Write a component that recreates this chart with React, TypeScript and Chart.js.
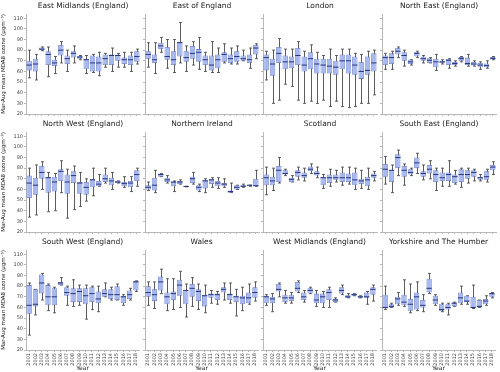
import React, { useEffect, useRef } from 'react';
import { Chart, registerables } from 'chart.js';
Chart.register(...registerables);

const years = ['2001','2002','2003','2004','2005','2006','2007','2008','2009','2010','2011','2012','2013','2014','2015','2016','2017','2018'];
const yTicks = [20, 30, 40, 50, 60, 70, 80, 90, 100, 110];
const yMin = 20;
const yMax = 114;
const yLabel = 'Mar-Aug mean MDA8 ozone (\u03bcgm\u207b\u00b3)';
const xLabel = 'Year';

// [min, q1, median, q3, max]
const eastMidlands = [[54,61,66,70,80],[52,60,67,72,76],[79.5,80,81,82.5,83],[55,66,76,79,83],[58,65,68,71,74],[68,75,80,85,88],[60,67,72,75,80],[68,73,77,79,84],[71,72,73.5,74.5,75],[58,62,71,72,75],[59,60,68,75,76],[56,60,68,74,78],[64,66,72,76,77],[60,66,75,76,82],[64,70,75,76,77],[64,67,71,73,78],[60,66,71,75,78],[67,69,74,79,81]];
const eastOfEngland = [[64,72,76,79,87],[58,68,71,76,87],[78,81,84,87,92],[63,71,74,83,90],[59,66,71,79,90],[68,74,87,88,106],[60,69,73,79,84],[66,72,77,84,88],[62,69,78,81,92],[60,66,71,75,78],[59,61,66,75,88],[59,63,71,76,82],[68,69,76,78,86],[67,68,72,76,82],[67,69,74,79,84],[70,70,72,75,80],[63,68,71,76,82],[72,76,82,85,86]];
const london = [[52,61,73,76,79],[30,56,67,72,80],[33,68,77,83,91],[48,62,69,75,81],[46,63,69,74,81],[33,66,75,82,88],[30,60,66,74,79],[32,62,72,78,85],[30,58,67,72,78],[33,58,66,72,75],[27,58,65,72,81],[32,57,64,70,75],[27,62,70,76,81],[26,58,70,76,81],[27,57,66,74,77],[30,53,60,69,76],[30,57,61,74,79],[38,60,68,77,80]];
const northEast = [[62,66,73,75,77],[62,67,73,77,79],[73,76,79,82,83],[65,70,75,78,80],[66,67,69,71,71],[73,74,77,78,79],[68,70,72,74,75],[68,68,70.5,72.5,73],[61,64,69,72,76],[67,68,69,70,71],[63,66,70.5,72,72],[65,66,67.5,69,70],[69,70,72,73.5,74],[65,66,67.5,73,76],[65,65.5,67,69,70],[62,64,66,68,69],[63,64,65.5,67.5,70],[71,71.5,72,73.5,74]];
const northWest = [[34,52,66,73,80],[36,55,64,71,83],[60,70,76,82,86],[39,57,71,72,76],[40,58,67,72,75],[57,68,77,79,87],[33,56,67,74,79],[41,66,73,77,82],[44,56,66,67,76],[49,55,62,67,70],[54,62,69,70,80],[63,63,65,68,74],[66,67,70,74,80],[60,64,68,71,76],[66,66,67,68,68],[62,63,65.5,67,72],[58,62,66,68,72],[63,68,74,78,80]];
const northernIreland = [[59,60,62,64,67],[57,59,64,71,78],[72,72,74,75,75],[66,67,69,71,73],[58,63,67,67,68],[65,65,67,68,69],[62.5,62.5,62.8,63,63],[65,66,70,72,76],[58,59,62,64,65],[57,61,68,69,70],[62,65,69,70,71],[61,63,66,68,71],[62,63,65,66,70],[57,57,58,59,66],[60,60,62,64,64],[62,62,63,64,65],[63,63,64,64,64],[63,63,63.5,70,78]];
const scotland = [[55,64,71,74,81],[59,64,68,72,80],[66,67,78,82,90],[73,74,75,78,79],[67,67,69.5,71,73],[69,72,76,78,81],[68,71,73,76,80],[75,77,79,81.5,84],[71,73,75,77,81],[61,64,71,72,74],[63,66,71,74,79],[67,69,71,74,78],[64,67,71,76,81],[65,67,71,75,81],[60,64,69,76,80],[61,65,68,70,78],[60,63,69,72,80],[68,71,73,75,77]];
const southEast = [[65,72,79,84,91],[57,67,78,78,83],[73,80,90,93,97],[64,72,78,82,84],[73,74,76,79,80],[75,80,85,90,94],[69,72,75,77,83],[70,75,79,83,87],[59,67,74,78,80],[63,68,71,76,80],[63,68,74,76,87],[65,66,72,74,78],[62,67,74,79,80],[66,70,74,78,80],[68,72,76,78,79],[68,69,71,72,74],[67,69,72,77,79],[74,78,81,83,86]];
const southWest = [[34,54,62,81,83],[53,61,63,77,77],[67,73,83,91,92],[57,62,70,81,82],[55,62,70,78,79],[81,81,83,84,88],[62,71,74,79,80],[61,65,73,78,86],[62,65,75,78,81],[49,63,71,78,81],[58,65,73,79,80],[56,64,68,75,80],[70,70,73,77,83],[67,68,72,77,79],[67,67,72,80,82],[62,64,70,71,72],[67,68,72,76,78],[75,76,84,85,85]];
const wales = [[62,70,74,80,84],[59,66,72,77,84],[73,76,84,89,96],[57,63,70,74,87],[58,67,73,75,87],[60,71,81,86,94],[51,63,76,76,82],[61,70,78,82,88],[58,66,75,77,82],[55,61,71,72,81],[64,69,72,73,76],[63,67,72,73,75],[67,74,77,79,83],[64,67,72,73,83],[52,65,70,71,77],[57,63,69,71,79],[63,64,69,74,82],[66,69,74,79,84]];
const westMidlands = [[62,64,70,71,72],[56,64,68,70,73],[70,75,77,82,83],[64,65,69,72,76],[64,66,69,72,74],[74,75,78,84,85],[65,67,70,74,76],[73,73,76,78,79],[61,64,67,73,76],[60,64,70,73,75],[60,67,74,77,79],[65,65,67,68,69],[72,73,76,79,81],[69,69,70,71.5,73],[71,71,72,73,73],[69,69,70,71,71],[63,69,70,74,75],[66,72,77,79,81]];
const yorkshire = [[58,59,60,72,80],[60,60,61,63,64],[62,63,68,70,74],[61,62,65,72,86],[55,57,63,68,82],[57,58,70,74,84],[56,60,62,67,72],[73,74,78,87,92],[62,63,67,71,72],[56,57,58,63,64],[53,58,60,63,64],[61,61,64,64,65],[63,64,69,74,80],[63,65,66,71,71],[59,60,60,70,81],[60,60,61,67,67],[62,63,66,68,71],[69,70,73,73,74]];

const panels = [
  { title: 'East Midlands (England)', data: eastMidlands },
  { title: 'East of England', data: eastOfEngland },
  { title: 'London', data: london },
  { title: 'North East (England)', data: northEast },
  { title: 'North West (England)', data: northWest },
  { title: 'Northern Ireland', data: northernIreland },
  { title: 'Scotland', data: scotland },
  { title: 'South East (England)', data: southEast },
  { title: 'South West (England)', data: southWest },
  { title: 'Wales', data: wales },
  { title: 'West Midlands (England)', data: westMidlands },
  { title: 'Yorkshire and The Humber', data: yorkshire },
];

const FONT = 'DejaVu Sans';
const SPINE = '#b8b8b8';
const BOX_FILL = '#a8b9f0';
const BOX_EDGE = '#6a7cc4';
const MEDIAN = '#26347e';
const WHISKER = '#4a4a4a';

const PLOT_W = 114;
const PLOT_H = 100;
const COL_X = (c: number) => 26 + c * 118.5;
const ROW_Y = (r: number) => 14 + r * 118;

function Panel({ title, data, row, col }: { title: string; data: number[][]; row: number; col: number }) {
  const ref = useRef<HTMLCanvasElement | null>(null);
  const padL = col === 0 ? 26 : 5;
  const padT = 14;
  const padR = 3;
  const padB = row === 2 ? 22 : 4;
  const left = COL_X(col) - padL;
  const top = ROW_Y(row) - padT;
  const width = PLOT_W + padL + padR;
  const height = PLOT_H + padT + padB;

  useEffect(() => {
    if (!ref.current) return;
    const extras = {
      id: 'boxExtras',
      beforeDatasetsDraw(chart: any) {
        const ctx = chart.ctx;
        const xs = chart.scales.x;
        const ys = chart.scales.y;
        const meta = chart.getDatasetMeta(0);
        ctx.save();
        ctx.strokeStyle = WHISKER;
        ctx.lineWidth = 0.9;
        data.forEach((d, i) => {
          const x = Math.round(xs.getPixelForValue(i)) + 0.5;
          const bw = meta.data[i] ? meta.data[i].width : 4;
          const cw = bw * 0.55;
          const yLo = ys.getPixelForValue(d[0]);
          const yHi = ys.getPixelForValue(d[4]);
          ctx.beginPath();
          ctx.moveTo(x, yLo);
          ctx.lineTo(x, yHi);
          ctx.moveTo(x - cw / 2, yLo);
          ctx.lineTo(x + cw / 2, yLo);
          ctx.moveTo(x - cw / 2, yHi);
          ctx.lineTo(x + cw / 2, yHi);
          ctx.stroke();
        });
        ctx.restore();
      },
      afterDatasetsDraw(chart: any) {
        const ctx = chart.ctx;
        const xs = chart.scales.x;
        const ys = chart.scales.y;
        const meta = chart.getDatasetMeta(0);
        ctx.save();
        ctx.strokeStyle = MEDIAN;
        ctx.lineWidth = 1;
        data.forEach((d, i) => {
          const x = xs.getPixelForValue(i);
          const bw = meta.data[i] ? meta.data[i].width : 4;
          const y = ys.getPixelForValue(d[2]);
          ctx.beginPath();
          ctx.moveTo(x - bw / 2, y);
          ctx.lineTo(x + bw / 2, y);
          ctx.stroke();
        });
        ctx.restore();
        const a = chart.chartArea;
        ctx.save();
        ctx.fillStyle = '#222';
        ctx.font = `7.5px "${FONT}"`;
        ctx.textAlign = 'center';
        ctx.textBaseline = 'alphabetic';
        ctx.fillText(title, (a.left + a.right) / 2, a.top - 6);
        ctx.restore();
      },
    };

    const chart = new Chart(ref.current, {
      type: 'bar',
      data: {
        labels: years,
        datasets: [
          {
            data: data.map((d) => [d[1], d[3]]),
            backgroundColor: BOX_FILL,
            borderColor: BOX_EDGE,
            borderWidth: 0.8,
            borderSkipped: false,
            barPercentage: 0.84,
            categoryPercentage: 1,
          } as any,
        ],
      },
      options: {
        animation: false,
        responsive: false,
        maintainAspectRatio: false,
        devicePixelRatio: 1,
        layout: { padding: { top: padT, right: padR, left: 0, bottom: 0 } },
        plugins: { legend: { display: false }, tooltip: { enabled: false }, title: { display: false } },
        scales: {
          x: {
            type: 'category',
            offset: true,
            grid: { display: true, drawOnChartArea: false, drawTicks: true, tickLength: 2, color: SPINE, offset: false },
            border: { display: true, color: SPINE, width: 1 },
            ticks: {
              display: row === 2,
              autoSkip: false,
              minRotation: 90,
              maxRotation: 90,
              padding: 1,
              color: '#444',
              font: { family: FONT, size: 5 },
            },
            title: { display: row === 2, text: xLabel, color: '#222', font: { family: FONT, size: 6 }, padding: { top: 0, bottom: 0 } },
            afterFit: (s: any) => { s.height = padB; },
          },
          y: {
            type: 'linear',
            min: yMin,
            max: yMax,
            afterBuildTicks: (s: any) => { s.ticks = yTicks.map((v) => ({ value: v })); },
            grid: { display: true, drawOnChartArea: false, drawTicks: true, tickLength: 2, color: SPINE },
            border: { display: true, color: SPINE, width: 1 },
            ticks: {
              display: col === 0,
              padding: 1,
              color: '#444',
              font: { family: FONT, size: 5 },
            },
            title: { display: col === 0, text: yLabel, color: '#222', font: { family: FONT, size: 5.5 }, padding: { top: 0, bottom: 1 } },
            afterFit: (s: any) => { s.width = padL; },
          },
        },
      } as any,
      plugins: [extras],
    });
    return () => chart.destroy();
  }, []);

  return (
    <canvas
      ref={ref}
      width={width}
      height={height}
      style={{ position: 'absolute', left, top, width, height }}
    />
  );
}

export default function App() {
  return (
    <div style={{ position: 'absolute', left: 0, top: 0, width: 500, height: 372, background: '#fff', overflow: 'hidden' }}>
      {panels.map((p, i) => (
        <Panel key={p.title} title={p.title} data={p.data} row={Math.floor(i / 4)} col={i % 4} />
      ))}
    </div>
  );
}
